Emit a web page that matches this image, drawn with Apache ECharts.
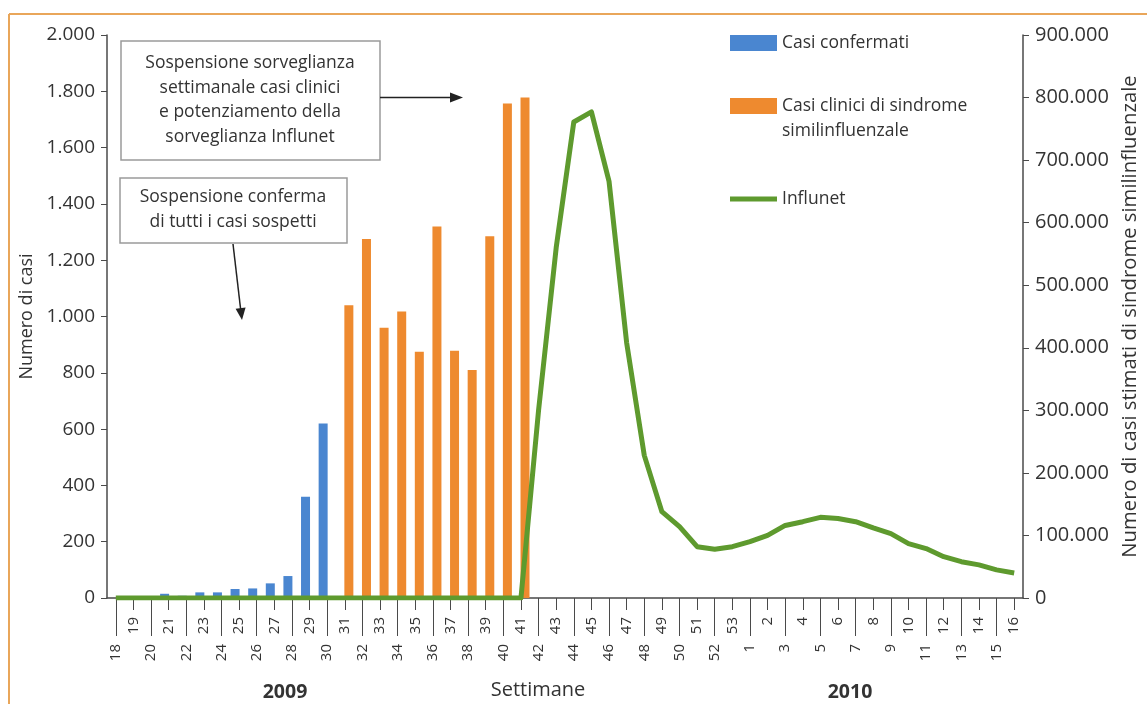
<!DOCTYPE html>
<html><head><meta charset="utf-8">
<script src="https://cdn.jsdelivr.net/npm/echarts@6/dist/echarts.min.js"></script>
<style>html,body{margin:0;padding:0;background:#fff}#c{width:1147px;height:704px}</style>
</head><body><div id="c"></div>
<script>
// ---- data ----
const weeks = ['18','19','20','21','22','23','24','25','26','27','28','29','30','31','32','33','34','35','36','37','38','39','40','41','42','43','44','45','46','47','48','49','50','51','52','53',
               '1','2','3','4','5','6','7','8','9','10','11','12','13','14','15','16'];
const confirmedCases = [0,0,0,15,8,20,20,32,34,52,78,360,620,null,null,null,null,null,null,null,null,null,null,null,null,null,null,null,null,null,null,null,null,null,null,null,
                        null,null,null,null,null,null,null,null,null,null,null,null,null,null,null,null];
const clinicalCases = [null,null,null,null,null,null,null,null,null,null,null,null,null,1040,1275,960,1018,875,1320,878,810,1285,1757,1778,null,null,null,null,null,null,null,null,null,null,null,null,
                       null,null,null,null,null,null,null,null,null,null,null,null,null,null,null,null];
const influnet = [0,0,0,0,0,0,0,0,0,0,0,0,0,0,0,0,0,0,0,0,0,0,0,0,300000,560000,761000,777000,666000,408000,228000,138000,114000,82000,78000,82000,
                  90000,100000,116000,122000,129000,127000,122000,112000,103000,87000,79000,66000,58000,53000,45000,40000];
const yearLabels = ['2009','2010'];
const xAxisTitle = 'Settimane';
const leftAxisTitle = 'Numero di casi';
const rightAxisTitle = 'Numero di casi stimati di sindrome similinfluenzale';
const seriesNames = ['Casi confermati','Casi clinici di sindrome similinfluenzale','Influnet'];
const note1 = 'Sospensione sorveglianza\nsettimanale casi clinici\ne potenziamento della\nsorveglianza Influnet';
const note2 = 'Sospensione conferma\ndi tutti i casi sospetti';

// ---- styles ----
const FONT = '"Open Sans"';
const TXT = '#333';
const AX = '#4a4a4a';
const BLUE = '#4a86d0', ORANGE = '#ee8a2f', GREEN = '#5e9a2e';
const thousands = v => String(v).replace(/\B(?=(\d{3})+(?!\d))/g, '.');

const chart = echarts.init(document.getElementById('c'), null, {renderer: 'canvas'});
const baseX = {
  type: 'category', data: weeks, position: 'bottom', gridIndex: 0,
  axisLine: {onZero: false}, splitLine: {show: false}
};
const legText = {fontFamily: FONT, fontSize: 17.5, color: TXT};
chart.setOption({
  backgroundColor: '#fff',
  animation: false,
  textStyle: {fontFamily: FONT},
  grid: {left: 107, right: 124, top: 35, bottom: 106, outerBoundsMode: 'none', containLabel: false},
  legend: [
    {data: [seriesNames[0]], left: 730, top: 34, orient: 'vertical', padding: 0,
     itemWidth: 47, itemHeight: 16, icon: 'rect', textStyle: legText},
    {data: [seriesNames[1]], left: 730, top: 68.5, orient: 'vertical', padding: 0,
     itemWidth: 47, itemHeight: 16, icon: 'rect',
     formatter: () => ' \nCasi clinici di sindrome\nsimilinfluenzale',
     textStyle: Object.assign({}, legText, {lineHeight: 25})},
    {data: [seriesNames[2]], left: 730, top: 190, orient: 'vertical', padding: 0,
     itemWidth: 47, itemHeight: 5, icon: 'rect', textStyle: legText}
  ],
  xAxis: [
    Object.assign({}, baseX, {
      axisLine: {show: true, onZero: false, lineStyle: {color: AX, width: 1.5}},
      axisTick: {show: true, alignWithLabel: true, length: 38, interval: (i) => i % 2 === 0, lineStyle: {color: AX}},
      axisLabel: {interval: (i) => i % 2 === 0, rotate: 90, margin: 46, fontSize: 15, color: TXT, fontFamily: FONT}
    }),
    Object.assign({}, baseX, {
      axisLine: {show: false, onZero: false},
      axisTick: {show: true, alignWithLabel: true, length: 12, interval: (i) => i % 2 === 1, lineStyle: {color: AX}},
      axisLabel: {interval: (i) => i % 2 === 1, rotate: 90, margin: 19, fontSize: 15, color: TXT, fontFamily: FONT}
    })
  ],
  yAxis: [
    {type: 'value', min: 0, max: 2000, interval: 200, position: 'left',
     name: leftAxisTitle, nameLocation: 'middle', nameGap: 60, nameRotate: 90,
     nameTextStyle: {fontSize: 18, color: TXT, fontFamily: FONT, padding: [0, 0, 8, 0]},
     axisLine: {show: true, lineStyle: {color: AX, width: 1.5}},
     axisTick: {show: true, length: 6, lineStyle: {color: AX}},
     axisLabel: {margin: 12, fontSize: 19, color: TXT, fontFamily: FONT, formatter: thousands},
     splitLine: {show: false}},
    {type: 'value', min: 0, max: 900000, interval: 100000, position: 'right',
     name: rightAxisTitle, nameLocation: 'middle', nameGap: 94, nameRotate: 90,
     nameTextStyle: {fontSize: 20.3, color: TXT, fontFamily: FONT},
     axisLine: {show: true, lineStyle: {color: AX, width: 1.5}},
     axisTick: {show: true, length: 6, lineStyle: {color: AX}},
     axisLabel: {margin: 12, fontSize: 20, color: TXT, fontFamily: FONT, formatter: thousands},
     splitLine: {show: false}}
  ],
  series: [
    {name: seriesNames[0], type: 'bar', data: confirmedCases, xAxisIndex: 0, yAxisIndex: 0,
     barWidth: 9, barGap: '-10%', itemStyle: {color: BLUE}},
    {name: seriesNames[1], type: 'bar', data: clinicalCases, xAxisIndex: 0, yAxisIndex: 0,
     barWidth: 9, barGap: '-10%', itemStyle: {color: ORANGE}},
    {name: seriesNames[2], type: 'line', data: influnet, xAxisIndex: 0, yAxisIndex: 1,
     showSymbol: false, symbol: 'none', z: 5, lineStyle: {color: GREEN, width: 5, join: 'round'}, itemStyle: {color: GREEN}}
  ],
  graphic: [
    {type: 'line', shape: {x1: 9, y1: 14, x2: 1147, y2: 14}, style: {stroke: '#e9a65a', lineWidth: 2}, silent: true},
    {type: 'line', shape: {x1: 9, y1: 14, x2: 9, y2: 704}, style: {stroke: '#e9a65a', lineWidth: 2}, silent: true},
    {type: 'rect', shape: {x: 121, y: 41, width: 259, height: 119}, style: {fill: '#fff', stroke: '#9a9a9a', lineWidth: 1.5}, z: 10},
    {type: 'text', x: 250, y: 100, z: 11, style: {text: note1, x: 0, y: 0, align: 'center', verticalAlign: 'middle', fill: TXT, font: '17.5px ' + FONT, lineHeight: 24.5}},
    {type: 'rect', shape: {x: 120, y: 178, width: 227, height: 65}, style: {fill: '#fff', stroke: '#9a9a9a', lineWidth: 1.5}, z: 10},
    {type: 'text', x: 233, y: 210, z: 11, style: {text: note2, x: 0, y: 0, align: 'center', verticalAlign: 'middle', fill: TXT, font: '17.5px ' + FONT, lineHeight: 25}},
    {type: 'line', shape: {x1: 380, y1: 97.5, x2: 452, y2: 97.5}, style: {stroke: '#222', lineWidth: 1.5}, z: 10},
    {type: 'polygon', shape: {points: [[450, 92.5], [463, 97.5], [450, 102.5]]}, style: {fill: '#222'}, z: 10},
    {type: 'line', shape: {x1: 233, y1: 244, x2: 240.6, y2: 309}, style: {stroke: '#222', lineWidth: 1.5}, z: 10},
    {type: 'polygon', shape: {points: [[242, 320], [245.6, 307.5], [235.6, 308.7]]}, style: {fill: '#222'}, z: 10},
    {type: 'text', x: 285, y: 692, style: {text: yearLabels[0], x: 0, y: 0, align: 'center', verticalAlign: 'middle', fill: TXT, font: 'bold 19.5px ' + FONT}},
    {type: 'text', x: 850, y: 692, style: {text: yearLabels[1], x: 0, y: 0, align: 'center', verticalAlign: 'middle', fill: TXT, font: 'bold 19.5px ' + FONT}},
    {type: 'text', x: 538, y: 690, style: {text: xAxisTitle, x: 0, y: 0, align: 'center', verticalAlign: 'middle', fill: TXT, font: '20px ' + FONT}}
  ]
});
</script></body></html>
